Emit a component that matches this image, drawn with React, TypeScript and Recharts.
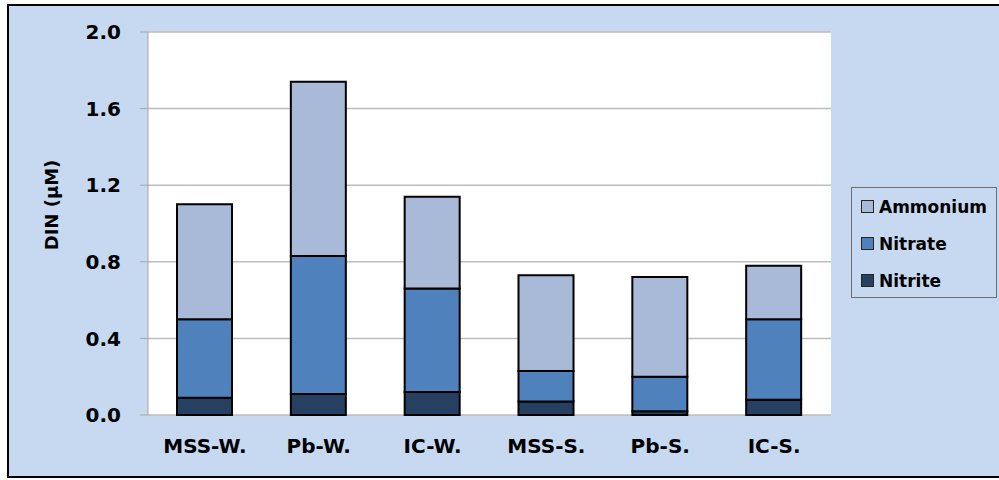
import React from 'react';
import {
  BarChart,
  Bar,
  XAxis,
  YAxis,
  CartesianGrid,
  Legend,
} from 'recharts';

const CATEGORIES = ['MSS-W.', 'Pb-W.', 'IC-W.', 'MSS-S.', 'Pb-S.', 'IC-S.'];
const NITRITE = [0.09, 0.11, 0.12, 0.07, 0.02, 0.08];
const NITRATE = [0.41, 0.72, 0.54, 0.16, 0.18, 0.42];
const AMMONIUM = [0.6, 0.91, 0.48, 0.5, 0.52, 0.28];
const Y_TICKS = [0, 0.4, 0.8, 1.2, 1.6, 2.0];
const BOUNDARY_TICKS = [0, 1, 2, 3, 4, 5, 6];
const LEGEND_ORDER = ['Ammonium', 'Nitrate', 'Nitrite'];

const COLORS = {
  Nitrite: '#254061',
  Nitrate: '#4f81bd',
  Ammonium: '#a9b9d8',
};

const FONT = '"DejaVu Sans", sans-serif';

const data = CATEGORIES.map((name, i) => ({
  name,
  Nitrite: NITRITE[i],
  Nitrate: NITRATE[i],
  Ammonium: AMMONIUM[i],
}));

function LegendBox({ payload }: any) {
  const items = [...(payload ?? [])].sort(
    (a: any, b: any) => LEGEND_ORDER.indexOf(a.value) - LEGEND_ORDER.indexOf(b.value)
  );
  return (
    <div
      style={{
        width: 144,
        height: 109,
        border: '1px solid #6f6f6f',
        boxSizing: 'content-box',
        paddingTop: 0,
      }}
    >
      {items.map((item: any) => (
        <div
          key={item.value}
          style={{
            display: 'flex',
            alignItems: 'center',
            height: 37,
            paddingLeft: 9,
            fontFamily: FONT,
            fontWeight: 'bold',
            fontSize: 17,
            color: '#000',
          }}
        >
          <span
            style={{
              display: 'inline-block',
              width: 11,
              height: 11,
              background: item.color,
              border: '1px solid #262626',
              marginRight: 5,
            }}
          />
          {item.value}
        </div>
      ))}
    </div>
  );
}

export default function App() {
  return (
    <div
      style={{
        position: 'absolute',
        left: 0,
        top: 0,
        width: 999,
        height: 480,
        overflow: 'hidden',
        background: '#fff',
      }}
    >
      <div
        style={{
          position: 'absolute',
          left: 7,
          top: 4,
          width: 1000,
          height: 470,
          border: '2px solid #000',
          background: '#c6d9f0',
        }}
      />
      <div style={{ position: 'absolute', left: 0, top: 0 }}>
        <BarChart
          width={999}
          height={480}
          data={data}
          margin={{ top: 32, right: 168, bottom: 0, left: 0 }}
          barSize={55}
        >
          <CartesianGrid
            vertical={false}
            fill="#ffffff"
            stroke="#bdbdbd"
            strokeWidth={1.5}
            yAxisId="left"
            xAxisId="cat"
          />
          <XAxis
            xAxisId="bounds"
            type="number"
            domain={[0, 6]}
            ticks={BOUNDARY_TICKS}
            tick={false}
            tickSize={7}
            height={0}
            stroke="#a6a6a6"
          />
          <XAxis
            xAxisId="cat"
            dataKey="name"
            height={65}
            axisLine={false}
            tickLine={false}
            tickSize={0}
            tickMargin={24}
            tick={{ fill: '#000', fontSize: 20, fontWeight: 'bold', fontFamily: FONT }}
            interval={0}
          />
          <XAxis
            xAxisId="top"
            orientation="top"
            type="number"
            domain={[0, 6]}
            tick={false}
            tickLine={false}
            height={0}
            stroke="#6f6f6f"
          />
          <YAxis
            yAxisId="left"
            width={148}
            domain={[0, 2]}
            ticks={Y_TICKS}
            tickFormatter={(v: number) => v.toFixed(1)}
            tickSize={8}
            tickMargin={19}
            stroke="#a6a6a6"
            tick={{ fill: '#000', fontSize: 20, fontWeight: 'bold', fontFamily: FONT }}
            label={{
              content: () => (
                <text
                  x={58}
                  y={205}
                  transform="rotate(-90 58 205)"
                  textAnchor="middle"
                  fontFamily={FONT}
                  fontWeight="bold"
                  fontSize={18}
                  fill="#000"
                >
                  DIN (µM)
                </text>
              ),
            }}
          />
          <YAxis
            yAxisId="frame"
            orientation="right"
            width={0}
            domain={[0, 2]}
            tick={false}
            tickLine={false}
            axisLine={{ stroke: '#595959', strokeWidth: 2 }}
          />
          <Legend
            layout="horizontal"
            verticalAlign="middle"
            align="center"
            content={<LegendBox />}
            wrapperStyle={{ position: 'absolute', left: 851, top: 187, width: 146, height: 111 }}
          />
          {(['Nitrite', 'Nitrate', 'Ammonium'] as const).map((key) => (
            <Bar
              key={key}
              dataKey={key}
              name={key}
              stackId="din"
              xAxisId="cat"
              yAxisId="left"
              fill={COLORS[key]}
              stroke="#000"
              strokeWidth={2}
              isAnimationActive={false}
            />
          ))}
        </BarChart>
      </div>
    </div>
  );
}
